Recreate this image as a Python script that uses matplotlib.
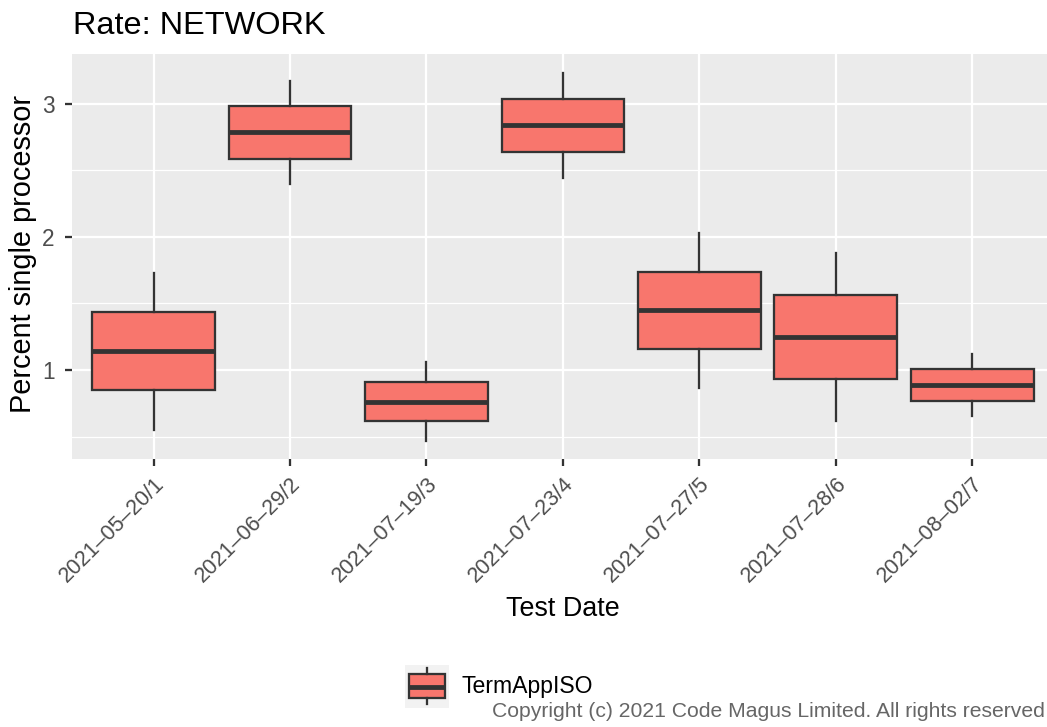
import matplotlib
matplotlib.use("Agg")
import matplotlib.pyplot as plt

plt.rcParams["font.family"] = ["Liberation Sans", "DejaVu Sans"]

# test dates and the five-number summary for each run
dates = ["2021–05–20/1", "2021–06–29/2", "2021–07–19/3", "2021–07–23/4",
         "2021–07–27/5", "2021–07–28/6", "2021–08–02/7"]
whisker_lo = [0.552, 2.395, 0.470, 2.445, 0.865, 0.617, 0.652]
q1 = [0.847, 2.587, 0.614, 2.638, 1.155, 0.932, 0.770]
median = [1.143, 2.785, 0.760, 2.838, 1.447, 1.248, 0.890]
q3 = [1.435, 2.980, 0.910, 3.033, 1.737, 1.563, 1.008]
whisker_hi = [1.728, 3.173, 1.057, 3.233, 2.028, 1.878, 1.122]

series_name = "TermAppISO"
fill = "#F8766D"
edge = "#333333"

DPI = 173
W, H = 1047, 727
fig = plt.figure(figsize=(W / DPI, H / DPI), dpi=DPI)

# panel (pixel coords of the plotting area)
px_left, px_right, px_top, px_bottom = 71.8, 1054, 54, 459
ax = fig.add_axes([px_left / W, 1 - px_bottom / H,
                   (px_right - px_left) / W, (px_bottom - px_top) / H])
ax.set_facecolor("#EBEBEB")
for s in ax.spines.values():
    s.set_visible(False)

stats = []
for i in range(len(dates)):
    stats.append(dict(whislo=whisker_lo[i], q1=q1[i], med=median[i],
                      q3=q3[i], whishi=whisker_hi[i], fliers=[]))

box_style = dict(
    patch_artist=True, showcaps=False, showfliers=False,
    boxprops=dict(facecolor=fill, edgecolor=edge, linewidth=0.95),
    medianprops=dict(color=edge, linewidth=2.0, solid_capstyle="butt"),
    whiskerprops=dict(color=edge, linewidth=0.95),
)

positions = list(range(1, len(dates) + 1))
ax.bxp(stats, positions=positions, widths=0.9, zorder=3, **box_style)

ax.set_xlim(0.4, 7.6)
ax.set_ylim(0.331, 3.374)
ax.set_xticks(positions)
ax.set_xticklabels(dates, rotation=45, ha="right", va="top",
                   rotation_mode="anchor")
ax.set_yticks([1, 2, 3])
ax.set_yticks([0.5, 1.5, 2.5], minor=True)
ax.grid(which="major", color="white", linewidth=0.95, zorder=0)
ax.grid(which="minor", axis="y", color="white", linewidth=0.5, zorder=0)
ax.set_axisbelow(True)
ax.tick_params(which="major", length=2.75, width=0.95, color=edge,
               labelsize=9.0, labelcolor="#4D4D4D")
ax.tick_params(axis="y", which="major", pad=4.5, labelsize=9.4)
ax.tick_params(axis="x", which="major", pad=3.2)
ax.tick_params(which="minor", length=0)

ax.set_xlabel("Test Date", fontsize=11.2, labelpad=4)
fig.text(23 / W, 1 - 254 / H, "Percent single processor", fontsize=12,
         rotation=90, ha="center", va="center")

fig.text(73 / W, 1 - 33.5 / H, "Rate: NETWORK", fontsize=13.5,
         ha="left", va="baseline")

# legend key drawn as a tiny boxplot
kx0, kx1, ky0, ky1 = 405, 449, 665, 708
kax = fig.add_axes([kx0 / W, 1 - ky1 / H, (kx1 - kx0) / W, (ky1 - ky0) / H])
kax.set_facecolor("#F2F2F2")
for s in kax.spines.values():
    s.set_visible(False)
kax.bxp([dict(whislo=0.1, q1=0.23, med=0.5, q3=0.78, whishi=0.92, fliers=[])],
        positions=[0.5], widths=0.8, **box_style)
kax.set_xticks([])
kax.set_yticks([])
kax.set_xlim(0, 1)
kax.set_ylim(0, 1)

fig.text(462 / W, 1 - 686.5 / H, series_name, fontsize=9.6,
         ha="left", va="center")

fig.text(1045 / W, 1 - 717 / H,
         "Copyright (c) 2021 Code Magus Limited. All rights reserved",
         fontsize=8.8, color="#666666", ha="right", va="baseline")

fig.savefig("out.png", dpi=DPI)
